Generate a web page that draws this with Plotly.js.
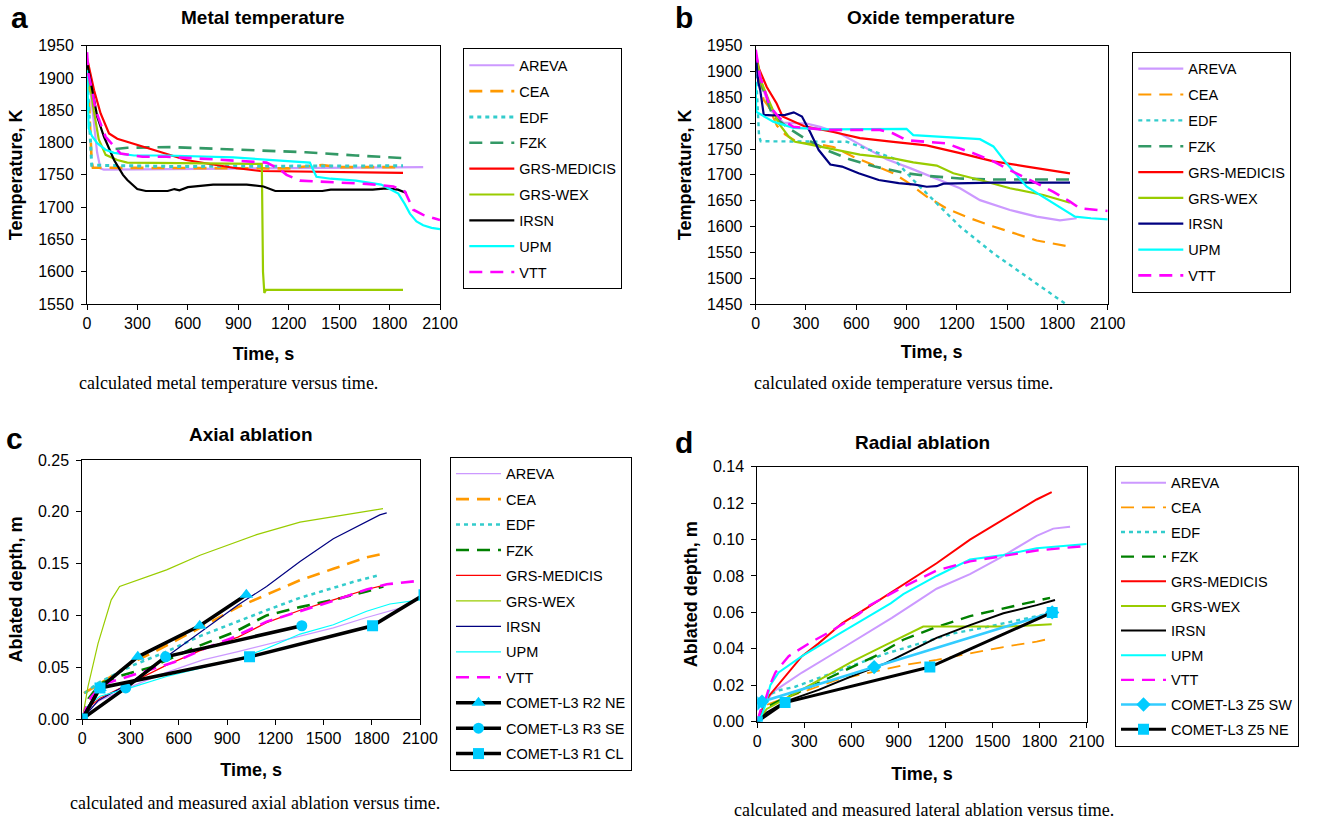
<!DOCTYPE html>
<html>
<head>
<meta charset="utf-8">
<script src="https://cdn.plot.ly/plotly-3.0.1.min.js"></script>
<style>
  html, body { margin: 0; padding: 0; background: #fff; }
  #chart { width: 1325px; height: 822px; }
</style>
</head>
<body>
<div id="chart"></div>
<script>
// ---------- Panel a: metal temperature [time s, temperature K] ----------
const metalAREVA   = [[0,1930],[20,1885],[42,1830],[60,1785],[80,1760],[100,1758],[500,1759],[1000,1760],[1500,1761],[2000,1762]];
const metalCEA     = [[0,1930],[8,1880],[18,1820],[28,1770],[35,1761],[600,1760],[1200,1760],[1300,1763],[1400,1765],[1500,1762],[1880,1762]];
const metalEDF     = [[0,1905],[10,1850],[20,1790],[28,1765],[500,1763],[1000,1763],[1500,1764],[1880,1764]];
const metalFZK     = [[170,1790],[240,1792],[500,1793],[700,1791],[1000,1788],[1300,1785],[1600,1780],[1880,1776]];
const metalMEDICIS = [[5,1925],[42,1881],[81,1845],[131,1814],[180,1806],[275,1798],[379,1790],[480,1782],[590,1773],[750,1766],[870,1761],[1030,1756],[1300,1755],[1600,1755],[1880,1753]];
const metalWEX     = [[0,1915],[12,1900],[40,1850],[70,1805],[111,1781],[180,1773],[240,1769],[520,1768],[800,1767],[1040,1767],[1047,1600],[1055,1567],[1065,1572],[1880,1572]];
const metalIRSN    = [[0,1925],[30,1880],[61,1840],[101,1809],[161,1773],[214,1750],[240,1742],[299,1728],[350,1725],[480,1725],[520,1728],[550,1726],[600,1731],[750,1735],[950,1735],[1050,1732],[1120,1725],[1400,1725],[1450,1727],[1700,1727],[1780,1729],[1850,1727],[1900,1722]];
const metalUPM     = [[0,1912],[5,1860],[10,1822],[30,1810],[61,1799],[110,1789],[161,1784],[280,1780],[470,1780],[870,1777],[1100,1773],[1326,1769],[1345,1758],[1365,1747],[1450,1744],[1600,1741],[1750,1735],[1852,1721],[1890,1705],[1921,1690],[1960,1678],[2000,1672],[2050,1668],[2100,1666]];
const metalVTT     = [[0,1940],[8,1907],[30,1881],[52,1850],[91,1822],[111,1809],[171,1791],[200,1783],[330,1778],[472,1778],[750,1774],[1068,1769],[1150,1758],[1187,1750],[1266,1741],[1465,1739],[1663,1736],[1822,1732],[1892,1724],[1941,1696],[2000,1688],[2060,1683],[2100,1680]];

// ---------- Panel b: oxide temperature [time s, temperature K] ----------
const oxideAREVA   = [[0,1930],[40,1870],[90,1825],[165,1801],[304,1799],[384,1793],[503,1780],[622,1759],[781,1730],[921,1713],[1080,1693],[1219,1674],[1338,1651],[1517,1632],[1676,1619],[1815,1612],[1915,1616]];
const oxideCEA     = [[0,1930],[20,1885],[48,1845],[77,1832],[127,1795],[177,1778],[250,1763],[376,1759],[463,1754],[582,1735],[702,1719],[821,1703],[900,1687],[1020,1658],[1139,1635],[1278,1616],[1418,1600],[1537,1587],[1676,1573],[1875,1561]];
const oxideEDF     = [[0,1910],[10,1830],[20,1775],[30,1765],[300,1764],[543,1764],[622,1755],[821,1732],[940,1690],[1060,1651],[1219,1600],[1418,1548],[1617,1503],[1845,1451]];
const oxideFZK     = [[0,1925],[40,1870],[100,1815],[185,1793],[290,1771],[430,1747],[560,1730],[710,1716],[900,1703],[1020,1698],[1219,1693],[1418,1691],[1875,1691]];
const oxideMEDICIS = [[0,1935],[20,1905],[66,1870],[125,1838],[160,1813],[225,1803],[290,1794],[463,1783],[622,1771],[821,1764],[1020,1757],[1219,1742],[1418,1726],[1617,1716],[1875,1703]];
const oxideWEX     = [[0,1930],[40,1875],[77,1845],[137,1800],[197,1774],[235,1764],[304,1760],[463,1750],[622,1739],[821,1732],[940,1724],[1080,1718],[1179,1703],[1338,1690],[1517,1674],[1716,1661],[1875,1646]];
const oxideIRSN    = [[0,1935],[15,1880],[27,1864],[48,1816],[100,1815],[177,1816],[227,1821],[276,1813],[326,1782],[376,1748],[445,1720],[515,1716],[614,1703],[734,1690],[853,1684],[950,1681],[1020,1677],[1080,1678],[1120,1683],[1418,1685],[1875,1685]];
const oxideUPM     = [[0,1880],[3,1822],[105,1803],[225,1791],[424,1788],[900,1789],[940,1777],[1120,1774],[1338,1769],[1418,1755],[1497,1722],[1617,1677],[1815,1638],[1905,1619],[2000,1616],[2100,1614]];
const oxideVTT     = [[0,1942],[26,1890],[85,1832],[145,1809],[225,1793],[424,1787],[742,1787],[821,1780],[900,1767],[1139,1761],[1219,1751],[1298,1742],[1418,1726],[1517,1709],[1656,1687],[1776,1667],[1875,1648],[1935,1635],[2074,1631],[2100,1630]];

// ---------- Panel c: axial ablation [time s, depth m] ----------
const axialAREVA   = [[0,0],[30,0.008],[110,0.018],[284,0.03],[524,0.045],[750,0.057],[968,0.065],[1146,0.072],[1354,0.08],[1561,0.088],[1768,0.098],[1900,0.104],[1975,0.107]];
const axialCEA     = [[10,0.025],[100,0.033],[317,0.055],[450,0.065],[732,0.088],[968,0.108],[1146,0.12],[1354,0.134],[1561,0.145],[1768,0.156],[1882,0.16]];
const axialEDF     = [[15,0.025],[100,0.035],[317,0.052],[524,0.065],[732,0.08],[927,0.092],[1146,0.105],[1354,0.117],[1561,0.127],[1700,0.133],[1851,0.139]];
const axialFZK     = [[0,0],[40,0.02],[110,0.034],[222,0.041],[429,0.05],[699,0.069],[948,0.084],[1146,0.1],[1354,0.108],[1561,0.115],[1768,0.123],[1872,0.128]];
const axialMEDICIS = [[0,0],[30,0.01],[110,0.02],[317,0.036],[524,0.052],[732,0.066],[968,0.079],[1146,0.093],[1354,0.105],[1561,0.115],[1768,0.125],[1872,0.129]];
const axialWEX     = [[0,0],[15,0.012],[35,0.031],[98,0.073],[180,0.115],[232,0.128],[320,0.133],[524,0.144],[732,0.158],[939,0.17],[1084,0.178],[1354,0.19],[1561,0.195],[1870,0.203]];
const axialIRSN    = [[0,0],[100,0.018],[300,0.035],[524,0.06],[732,0.083],[968,0.11],[1146,0.128],[1354,0.152],[1561,0.174],[1700,0.185],[1800,0.193],[1850,0.197],[1893,0.199]];
const axialUPM     = [[0,0],[30,0.012],[110,0.022],[317,0.031],[524,0.041],[750,0.05],[968,0.058],[1146,0.068],[1354,0.082],[1561,0.091],[1768,0.104],[1913,0.111],[2000,0.113],[2100,0.115]];
const axialVTT     = [[0,0],[40,0.018],[120,0.033],[305,0.042],[574,0.055],[760,0.068],[927,0.078],[1146,0.094],[1354,0.104],[1561,0.114],[1768,0.125],[1893,0.13],[2100,0.1335]];
const cometR2NE    = [[0,0],[110,0.03],[345,0.06],[730,0.09],[1020,0.12]];
const cometR3SE    = [[0,0],[270,0.03],[518,0.06],[1365,0.09]];
const cometR1CL    = [[0,0],[110,0.03],[1040,0.06],[1805,0.09],[2125,0.12]];

// ---------- Panel d: radial ablation [time s, depth m] ----------
const radialAREVA   = [[0,0],[40,0.008],[94,0.016],[285,0.027],[497,0.038],[710,0.049],[858,0.057],[1000,0.065],[1143,0.073],[1356,0.081],[1547,0.09],[1781,0.102],[1887,0.106],[1994,0.107]];
const radialCEA     = [[0,0],[30,0.008],[81,0.01],[293,0.0165],[506,0.0229],[718,0.027],[931,0.031],[1143,0.034],[1356,0.0375],[1569,0.041],[1781,0.044],[1877,0.0458]];
const radialEDF     = [[0,0],[40,0.01],[80,0.015],[147,0.0174],[242,0.0192],[391,0.024],[612,0.031],[825,0.0375],[1037,0.043],[1250,0.0485],[1462,0.052],[1675,0.056],[1866,0.0595]];
const radialFZK     = [[0,0],[60,0.008],[150,0.012],[285,0.017],[455,0.024],[583,0.029],[752,0.036],[931,0.045],[1143,0.052],[1356,0.058],[1569,0.062],[1866,0.068]];
const radialMEDICIS = [[0,0],[9,0.003],[73,0.014],[178,0.025],[285,0.036],[391,0.043],[540,0.054],[710,0.063],[837,0.07],[931,0.075],[1143,0.087],[1356,0.1],[1569,0.111],[1781,0.122],[1877,0.126]];
const radialWEX     = [[0,0],[60,0.007],[187,0.013],[391,0.023],[604,0.033],[816,0.042],[931,0.047],[1058,0.0522],[1356,0.0522],[1600,0.0522],[1877,0.0535]];
const radialIRSN    = [[0,0],[60,0.005],[178,0.011],[391,0.0175],[604,0.025],[816,0.032],[931,0.037],[1143,0.046],[1356,0.053],[1569,0.0595],[1781,0.064],[1898,0.0668]];
const radialUPM     = [[0,0],[30,0.004],[51,0.009],[83,0.02],[136,0.027],[285,0.036],[497,0.047],[718,0.058],[850,0.065],[931,0.07],[1143,0.08],[1356,0.089],[1569,0.0915],[1781,0.0952],[2079,0.0975],[2100,0.0975]];
const radialVTT     = [[0,0],[20,0.006],[51,0.012],[80,0.02],[115,0.027],[200,0.036],[349,0.044],[476,0.05],[646,0.059],[718,0.064],[931,0.074],[1143,0.083],[1356,0.088],[1569,0.091],[1781,0.094],[2100,0.0965]];
const cometZ5SW     = [[0,0.01],[30,0.011],[745,0.03],[1880,0.06]];
const cometZ5NE     = [[0,0],[177,0.0105],[1100,0.03],[1880,0.06]];

// ---------- drawing ----------
const W = 1325, H = 822;
const px = v => v / W;          // pixel -> paper x
const py = v => 1 - v / H;      // pixel -> paper y

const SANS = 'Liberation Sans, Arial, sans-serif';
const SERIF = 'Liberation Serif, Times New Roman, serif';
const DASH = '13px,8px';
const DOT = '4px,4px';

function trace(pairs, name, c, w, dash, ax, legend, extra) {
  return Object.assign({
    type: 'scatter', mode: 'lines',
    x: pairs.map(p => p[0]), y: pairs.map(p => p[1]),
    name: name,
    line: { color: c, width: w, dash: dash || 'solid' },
    xaxis: 'x' + ax, yaxis: 'y' + ax,
    legend: legend, legendgroup: legend + name,
    hoverinfo: 'skip'
  }, extra || {});
}

function modelTraces(set, ax, legend, opt) {
  const names = ['AREVA','CEA','EDF','FZK','GRS-MEDICIS','GRS-WEX','IRSN','UPM','VTT'];
  return names.map((n, i) => trace(set[i], n, opt.colors[i], opt.widths[i], opt.dashes[i], ax, legend));
}

const dashes = ['solid', DASH, DOT, DASH, 'solid', 'solid', 'solid', 'solid', DASH];

const traces = [];
traces.push(...modelTraces(
  [metalAREVA, metalCEA, metalEDF, metalFZK, metalMEDICIS, metalWEX, metalIRSN, metalUPM, metalVTT],
  '', 'legend', {
    colors: ['#CC99FF','#FF9900','#33CCCC','#339966','#FF0000','#99CC00','#000000','#00FFFF','#FF00FF'],
    widths: [2.2, 2.6, 3, 2.6, 2.2, 2.2, 2.2, 2.2, 2.6], dashes: dashes }));
traces.push(...modelTraces(
  [oxideAREVA, oxideCEA, oxideEDF, oxideFZK, oxideMEDICIS, oxideWEX, oxideIRSN, oxideUPM, oxideVTT],
  '2', 'legend2', {
    colors: ['#CC99FF','#FF9900','#33CCCC','#339966','#FF0000','#99CC00','#000080','#00FFFF','#FF00FF'],
    widths: [2.2, 2.2, 2.4, 2.6, 2.2, 2.2, 2.2, 2.2, 2.6], dashes: dashes }));
traces.push(...modelTraces(
  [axialAREVA, axialCEA, axialEDF, axialFZK, axialMEDICIS, axialWEX, axialIRSN, axialUPM, axialVTT],
  '3', 'legend3', {
    colors: ['#CC99FF','#FF9900','#33CCCC','#008000','#FF0000','#99CC00','#000080','#00FFFF','#FF00FF'],
    widths: [1.2, 2.6, 2.6, 2.6, 1.2, 1.2, 1.2, 1.2, 2.6], dashes: dashes }));
const cometMarker = (symbol, size) => ({ color: '#00CCFF', size: size, symbol: symbol, line: { width: 0 } });
traces.push(trace(cometR2NE, 'COMET-L3 R2 NE', '#000000', 3.5, 'solid', '3', 'legend3',
  { mode: 'lines+markers', marker: cometMarker('triangle-up', 12) }));
traces.push(trace(cometR3SE, 'COMET-L3 R3 SE', '#000000', 3.5, 'solid', '3', 'legend3',
  { mode: 'lines+markers', marker: cometMarker('circle', 11) }));
traces.push(trace(cometR1CL, 'COMET-L3 R1 CL', '#000000', 3.5, 'solid', '3', 'legend3',
  { mode: 'lines+markers', marker: cometMarker('square', 11) }));
traces.push(...modelTraces(
  [radialAREVA, radialCEA, radialEDF, radialFZK, radialMEDICIS, radialWEX, radialIRSN, radialUPM, radialVTT],
  '4', 'legend4', {
    colors: ['#CC99FF','#FF9900','#33CCCC','#008000','#FF0000','#99CC00','#000000','#00FFFF','#FF00FF'],
    widths: [2, 1.8, 2.4, 2.4, 2, 2, 2, 2, 2.4], dashes: dashes }));
traces.push(trace(cometZ5SW, 'COMET-L3 Z5 SW', '#33CCFF', 2.6, 'solid', '4', 'legend4',
  { mode: 'lines+markers', marker: cometMarker('diamond', 11) }));
traces.push(trace(cometZ5NE, 'COMET-L3 Z5 NE', '#000000', 3, 'solid', '4', 'legend4',
  { mode: 'lines+markers', marker: cometMarker('square', 11) }));

function xAxis(dom, anchor, standoff) {
  return {
    domain: dom, anchor: anchor, range: [0, 2100], dtick: 300, tick0: 0,
    showline: true, linecolor: '#000', linewidth: 1, mirror: true,
    ticks: 'outside', ticklen: 5, tickcolor: '#000', showgrid: false, zeroline: false,
    tickfont: { family: SANS, size: 16, color: '#000' }, automargin: false,
    title: { text: '<b>Time, s</b>', font: { family: SANS, size: 18, color: '#000' }, standoff: standoff }
  };
}
function yAxis(dom, anchor, range, dtick, fmt, title) {
  return {
    domain: dom, anchor: anchor, range: range, dtick: dtick, tick0: range[0], tickformat: fmt,
    showline: true, linecolor: '#000', linewidth: 1, mirror: true,
    ticks: 'outside', ticklen: 5, tickcolor: '#000', showgrid: false, zeroline: false,
    tickfont: { family: SANS, size: 16, color: '#000' }, automargin: false, ticklabelstandoff: 4,
    title: { text: '<b>' + title + '</b>', font: { family: SANS, size: 18, color: '#000' }, standoff: 10 }
  };
}

const yTop = [py(304), py(45.7)];
const layout = {
  width: W, height: H,
  margin: { l: 0, r: 0, t: 0, b: 0 },
  paper_bgcolor: '#fff', plot_bgcolor: '#fff',
  font: { family: SANS, color: '#000' },
  xaxis:  xAxis([px(87), px(440)], 'y', 16),
  yaxis:  yAxis(yTop, 'x', [1550, 1950], 50, 'd', 'Temperature, K'),
  xaxis2: xAxis([px(755.7), px(1107.7)], 'y2', 14),
  yaxis2: yAxis(yTop, 'x2', [1450, 1950], 50, 'd', 'Temperature, K'),
  xaxis3: xAxis([px(82.3), px(420)], 'y3', 17),
  yaxis3: yAxis([py(719), py(460)], 'x3', [0, 0.25], 0.05, '.2f', 'Ablated depth, m'),
  xaxis4: xAxis([px(757.3), px(1086.7)], 'y4', 18),
  yaxis4: yAxis([py(721.7), py(466.7)], 'x4', [0, 0.14], 0.02, '.2f', 'Ablated depth, m'),
  showlegend: true,
  annotations: []
};

function legendBox(x, y, gap) {
  return {
    x: px(x), y: py(y), xanchor: 'left', yanchor: 'top',
    bgcolor: '#fff', bordercolor: '#000', borderwidth: 1,
    font: { family: SANS, size: 14.5, color: '#000' },
    itemwidth: 45, tracegroupgap: gap, traceorder: 'grouped',
    itemclick: false, itemdoubleclick: false
  };
}
layout.legend  = legendBox(463.3, 48.3, 4);
layout.legend2 = legendBox(1132.3, 51.7, 4);
layout.legend3 = legendBox(450, 456.7, 3.6);
layout.legend4 = legendBox(1115, 465.7, 2.8);

function note(text, x, y, font) {
  layout.annotations.push({ text: text, x: px(x), y: py(y), xref: 'paper', yref: 'paper',
    xanchor: 'center', yanchor: 'middle', showarrow: false, font: font });
}
const letterFont = { family: SANS, size: 30, color: '#000' };
const titleFont = { family: SANS, size: 19, color: '#000' };
const capFont = { family: SERIF, size: 18, color: '#000' };

note('<b>a</b>', 19.5, 17, letterFont);
note('<b>b</b>', 684, 17, letterFont);
note('<b>c</b>', 14, 439, letterFont);
note('<b>d</b>', 683.5, 442, letterFont);
note('<b>Metal temperature</b>', 263, 17, titleFont);
note('<b>Oxide temperature</b>', 931, 17, titleFont);
note('<b>Axial ablation</b>', 251, 435, titleFont);
note('<b>Radial ablation</b>', 922, 442, titleFont);
note('calculated metal temperature versus time.', 228, 383, capFont);
note('calculated oxide temperature versus time.', 903, 383, capFont);
note('calculated and measured axial ablation versus time.', 255, 803, capFont);
note('calculated and measured lateral ablation versus time.', 924, 810, capFont);

Plotly.newPlot('chart', traces, layout, { staticPlot: true, displayModeBar: false });
</script>
</body>
</html>
